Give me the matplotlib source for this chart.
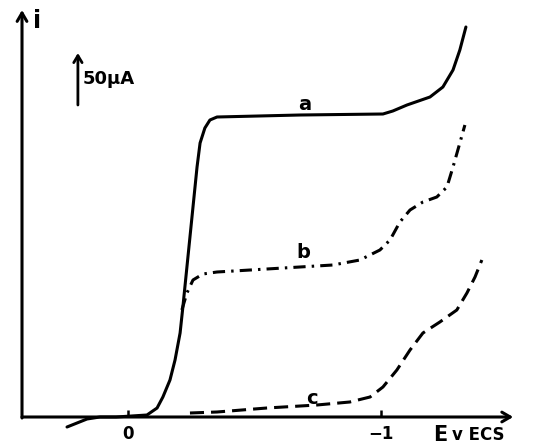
import matplotlib.pyplot as plt
import numpy as np

plt.rcParams['font.family'] = ['DejaVu Sans']

# Polarogrammes : E (V vs ECS), i (µA)
E_a = [0.241, 0.162, 0.111, 0.047, -0.075, -0.115, -0.138, -0.166, -0.186, -0.206,
       -0.217, -0.233, -0.253, -0.273, -0.285, -0.304, -0.324, -0.352, -0.680,
       -1.008, -1.047, -1.103, -1.194, -1.245, -1.285, -1.312, -1.336]
i_a = [-10, -2, 0, 0, 2, 9, 20, 37, 57, 84, 110, 150, 200, 250, 274, 289, 297,
       300, 302, 303, 306, 312, 320, 330, 347, 367, 390]

E_b = [-0.213, -0.233, -0.257, -0.296, -0.352, -0.549, -0.810, -0.917, -0.996,
       -1.036, -1.075, -1.115, -1.166, -1.221, -1.261, -1.285, -1.312, -1.332]
i_b = [107, 124, 137, 143, 145, 148, 152, 157, 167, 177, 195, 207, 215, 220,
       230, 250, 274, 292]

E_c = [-0.245, -0.352, -0.549, -0.747, -0.877, -0.957, -1.008, -1.063, -1.115,
       -1.166, -1.233, -1.300, -1.340, -1.372, -1.399]
i_c = [4, 5, 9, 12, 15, 20, 30, 47, 67, 84, 95, 107, 124, 140, 157]

labels = ['a', 'b', 'c']
label_E = [-0.700, -0.692, -0.727]
label_i = [313, 164, 19]

fig = plt.figure(figsize=(5.38, 4.45), dpi=100)
ax = fig.add_axes([0, 0, 1, 1])
ax.set_xlim(0.506, -1.621)
ax.set_ylim(-28, 417)

lw = 2.2
ax.plot(E_a, i_a, color='black', lw=lw, solid_capstyle='round')
ax.plot(E_b, i_b, color='black', lw=lw, linestyle=(0, (4, 2, 0.8, 2)))
ax.plot(E_c, i_c, color='black', lw=lw, linestyle=(0, (4.6, 2.3)))

for lab, x, y in zip(labels, label_E, label_i):
    ax.text(x, y, lab, fontsize=14, fontweight='bold', ha='center', va='center')

# axes avec flèches
arrow = dict(arrowstyle='->,head_length=0.6,head_width=0.35', lw=2.2, color='black',
             shrinkA=0, shrinkB=0)
ax.annotate('', xy=(-1.523, 0), xytext=(0.419, 0), arrowprops=arrow)
ax.annotate('', xy=(0.419, 407), xytext=(0.419, -1), arrowprops=arrow)
ax.text(0.360, 396, 'i', fontsize=17, fontweight='bold', ha='center', va='center')

# échelle 50 µA
ax.annotate('', xy=(0.198, 364), xytext=(0.198, 312),
            arrowprops=dict(arrowstyle='->,head_length=0.5,head_width=0.3', lw=2,
                            color='black', shrinkA=0, shrinkB=0))
ax.text(0.178, 338, '50µA', fontsize=13, fontweight='bold', ha='left', va='center')

for s in ax.spines.values():
    s.set_visible(False)
ax.spines['bottom'].set_position(('data', 0))
ax.set_xticks([0, -1])
ax.set_xticklabels(['0', '−1'], fontsize=12, fontweight='bold')
ax.tick_params(axis='x', direction='in', length=5, width=1.8, pad=6)
ax.set_yticks([])

ax.text(-1.261, -18, 'E', fontsize=15, fontweight='bold', ha='right', va='center')
ax.text(-1.281, -18, 'v ECS', fontsize=12, fontweight='bold', ha='left', va='center')

plt.savefig('out.png', dpi=100)
